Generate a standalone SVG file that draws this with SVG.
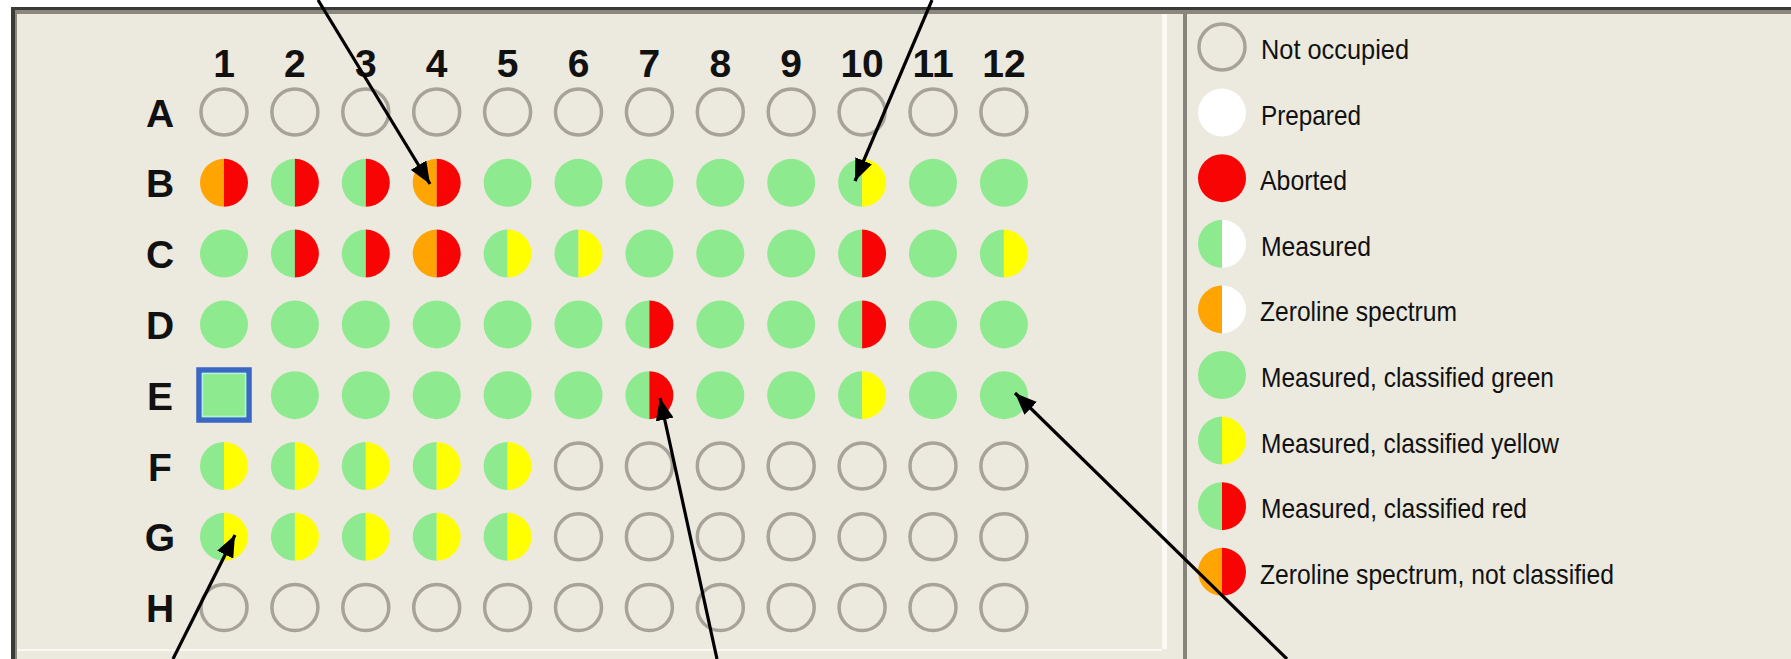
<svg xmlns="http://www.w3.org/2000/svg" xmlns:xlink="http://www.w3.org/1999/xlink" width="1791" height="659" viewBox="0 0 1791 659">
<style>
.lbl{font-family:"Liberation Sans",Arial,sans-serif;font-size:39px;font-weight:bold;fill:#111;text-anchor:middle}
.leg{font-family:"Liberation Sans",Arial,sans-serif;font-size:28px;fill:#111}
.empty{fill:none;stroke:#a7a398;stroke-width:3.5}
.G{fill:#8eea8e}.R{fill:#f80404}.Y{fill:#ffff00}.O{fill:#ffa400}.W{fill:#ffffff}
.arrow{stroke:#000;stroke-width:3.2;fill:none;marker-end:url(#ah)}
</style>
<defs>
<marker id="ah" markerUnits="userSpaceOnUse" markerWidth="24" markerHeight="18" refX="22" refY="9" orient="auto">
<path d="M0,0 L22,9 L0,18 Z" fill="#000"/>
</marker>
<g id="e"><circle r="23" class="empty"/></g>
<g id="g"><circle r="24" class="G"/></g>
<g id="gr"><path d="M0,-24A24,24 0 0 0 0,24Z" class="G"/><path d="M0,-24A24,24 0 0 1 0,24Z" class="R"/></g>
<g id="gy"><path d="M0,-24A24,24 0 0 0 0,24Z" class="G"/><path d="M0,-24A24,24 0 0 1 0,24Z" class="Y"/></g>
<g id="or"><path d="M0,-24A24,24 0 0 0 0,24Z" class="O"/><path d="M0,-24A24,24 0 0 1 0,24Z" class="R"/></g>
<g id="gw"><path d="M0,-24A24,24 0 0 0 0,24Z" class="G"/><path d="M0,-24A24,24 0 0 1 0,24Z" class="W"/></g>
<g id="ow"><path d="M0,-24A24,24 0 0 0 0,24Z" class="O"/><path d="M0,-24A24,24 0 0 1 0,24Z" class="W"/></g>
<g id="w"><circle r="24" class="W"/></g>
<g id="r"><circle r="24" class="R"/></g>
</defs>
<rect x="0" y="0" width="1791" height="659" fill="#ffffff"/>
<rect x="11" y="7" width="1780" height="652" fill="#ece9df"/>
<rect x="11" y="7" width="1780" height="3" fill="#3a3a36"/>
<rect x="11" y="10" width="1780" height="4" fill="#8a877e"/>
<rect x="11" y="7" width="4" height="652" fill="#3a3a36"/>
<rect x="15" y="14" width="2" height="645" fill="#8a877e"/>
<rect x="17" y="649" width="1145" height="2" fill="#f9f8f2"/>
<rect x="1162" y="14" width="5" height="635" fill="#fbfaf4"/>
<rect x="1183" y="14" width="4" height="645" fill="#86837a"/>

<g id="col-labels">
<text class="lbl" x="224" y="77">1</text>
<text class="lbl" x="294.9" y="77">2</text>
<text class="lbl" x="365.8" y="77">3</text>
<text class="lbl" x="436.7" y="77">4</text>
<text class="lbl" x="507.6" y="77">5</text>
<text class="lbl" x="578.5" y="77">6</text>
<text class="lbl" x="649.4" y="77">7</text>
<text class="lbl" x="720.3" y="77">8</text>
<text class="lbl" x="791.2" y="77">9</text>
<text class="lbl" x="862.1" y="77">10</text>
<text class="lbl" x="933" y="77">11</text>
<text class="lbl" x="1003.9" y="77">12</text>
</g>
<g id="row-labels">
<text class="lbl" x="160" y="126.5">A</text>
<text class="lbl" x="160" y="197.3">B</text>
<text class="lbl" x="160" y="268.1">C</text>
<text class="lbl" x="160" y="338.9">D</text>
<text class="lbl" x="160" y="409.7">E</text>
<text class="lbl" x="160" y="480.5">F</text>
<text class="lbl" x="160" y="551.3">G</text>
<text class="lbl" x="160" y="622.1">H</text>
</g>

<g id="row-A">
<g id="A1"><use xlink:href="#e" x="224" y="112"/></g>
<g id="A2"><use xlink:href="#e" x="294.9" y="112"/></g>
<g id="A3"><use xlink:href="#e" x="365.8" y="112"/></g>
<g id="A4"><use xlink:href="#e" x="436.7" y="112"/></g>
<g id="A5"><use xlink:href="#e" x="507.6" y="112"/></g>
<g id="A6"><use xlink:href="#e" x="578.5" y="112"/></g>
<g id="A7"><use xlink:href="#e" x="649.4" y="112"/></g>
<g id="A8"><use xlink:href="#e" x="720.3" y="112"/></g>
<g id="A9"><use xlink:href="#e" x="791.2" y="112"/></g>
<g id="A10"><use xlink:href="#e" x="862.1" y="112"/></g>
<g id="A11"><use xlink:href="#e" x="933" y="112"/></g>
<g id="A12"><use xlink:href="#e" x="1003.9" y="112"/></g>
</g>
<g id="row-B">
<g id="B1"><use xlink:href="#or" x="224" y="182.8"/></g>
<g id="B2"><use xlink:href="#gr" x="294.9" y="182.8"/></g>
<g id="B3"><use xlink:href="#gr" x="365.8" y="182.8"/></g>
<g id="B4"><use xlink:href="#or" x="436.7" y="182.8"/></g>
<g id="B5"><use xlink:href="#g" x="507.6" y="182.8"/></g>
<g id="B6"><use xlink:href="#g" x="578.5" y="182.8"/></g>
<g id="B7"><use xlink:href="#g" x="649.4" y="182.8"/></g>
<g id="B8"><use xlink:href="#g" x="720.3" y="182.8"/></g>
<g id="B9"><use xlink:href="#g" x="791.2" y="182.8"/></g>
<g id="B10"><use xlink:href="#gy" x="862.1" y="182.8"/></g>
<g id="B11"><use xlink:href="#g" x="933" y="182.8"/></g>
<g id="B12"><use xlink:href="#g" x="1003.9" y="182.8"/></g>
</g>
<g id="row-C">
<g id="C1"><use xlink:href="#g" x="224" y="253.6"/></g>
<g id="C2"><use xlink:href="#gr" x="294.9" y="253.6"/></g>
<g id="C3"><use xlink:href="#gr" x="365.8" y="253.6"/></g>
<g id="C4"><use xlink:href="#or" x="436.7" y="253.6"/></g>
<g id="C5"><use xlink:href="#gy" x="507.6" y="253.6"/></g>
<g id="C6"><use xlink:href="#gy" x="578.5" y="253.6"/></g>
<g id="C7"><use xlink:href="#g" x="649.4" y="253.6"/></g>
<g id="C8"><use xlink:href="#g" x="720.3" y="253.6"/></g>
<g id="C9"><use xlink:href="#g" x="791.2" y="253.6"/></g>
<g id="C10"><use xlink:href="#gr" x="862.1" y="253.6"/></g>
<g id="C11"><use xlink:href="#g" x="933" y="253.6"/></g>
<g id="C12"><use xlink:href="#gy" x="1003.9" y="253.6"/></g>
</g>
<g id="row-D">
<g id="D1"><use xlink:href="#g" x="224" y="324.4"/></g>
<g id="D2"><use xlink:href="#g" x="294.9" y="324.4"/></g>
<g id="D3"><use xlink:href="#g" x="365.8" y="324.4"/></g>
<g id="D4"><use xlink:href="#g" x="436.7" y="324.4"/></g>
<g id="D5"><use xlink:href="#g" x="507.6" y="324.4"/></g>
<g id="D6"><use xlink:href="#g" x="578.5" y="324.4"/></g>
<g id="D7"><use xlink:href="#gr" x="649.4" y="324.4"/></g>
<g id="D8"><use xlink:href="#g" x="720.3" y="324.4"/></g>
<g id="D9"><use xlink:href="#g" x="791.2" y="324.4"/></g>
<g id="D10"><use xlink:href="#gr" x="862.1" y="324.4"/></g>
<g id="D11"><use xlink:href="#g" x="933" y="324.4"/></g>
<g id="D12"><use xlink:href="#g" x="1003.9" y="324.4"/></g>
</g>
<g id="row-E">
<g id="E1"><rect x="199" y="370" width="50" height="50" fill="#8eea8e" stroke="#3a66c4" stroke-width="5.5"/><rect x="202.5" y="373.5" width="43" height="43" fill="none" stroke="#b4f0e0" stroke-width="1.5"/></g>
<g id="E2"><use xlink:href="#g" x="294.9" y="395.2"/></g>
<g id="E3"><use xlink:href="#g" x="365.8" y="395.2"/></g>
<g id="E4"><use xlink:href="#g" x="436.7" y="395.2"/></g>
<g id="E5"><use xlink:href="#g" x="507.6" y="395.2"/></g>
<g id="E6"><use xlink:href="#g" x="578.5" y="395.2"/></g>
<g id="E7"><use xlink:href="#gr" x="649.4" y="395.2"/></g>
<g id="E8"><use xlink:href="#g" x="720.3" y="395.2"/></g>
<g id="E9"><use xlink:href="#g" x="791.2" y="395.2"/></g>
<g id="E10"><use xlink:href="#gy" x="862.1" y="395.2"/></g>
<g id="E11"><use xlink:href="#g" x="933" y="395.2"/></g>
<g id="E12"><use xlink:href="#g" x="1003.9" y="395.2"/></g>
</g>
<g id="row-F">
<g id="F1"><use xlink:href="#gy" x="224" y="466"/></g>
<g id="F2"><use xlink:href="#gy" x="294.9" y="466"/></g>
<g id="F3"><use xlink:href="#gy" x="365.8" y="466"/></g>
<g id="F4"><use xlink:href="#gy" x="436.7" y="466"/></g>
<g id="F5"><use xlink:href="#gy" x="507.6" y="466"/></g>
<g id="F6"><use xlink:href="#e" x="578.5" y="466"/></g>
<g id="F7"><use xlink:href="#e" x="649.4" y="466"/></g>
<g id="F8"><use xlink:href="#e" x="720.3" y="466"/></g>
<g id="F9"><use xlink:href="#e" x="791.2" y="466"/></g>
<g id="F10"><use xlink:href="#e" x="862.1" y="466"/></g>
<g id="F11"><use xlink:href="#e" x="933" y="466"/></g>
<g id="F12"><use xlink:href="#e" x="1003.9" y="466"/></g>
</g>
<g id="row-G">
<g id="G1"><use xlink:href="#gy" x="224" y="536.8"/></g>
<g id="G2"><use xlink:href="#gy" x="294.9" y="536.8"/></g>
<g id="G3"><use xlink:href="#gy" x="365.8" y="536.8"/></g>
<g id="G4"><use xlink:href="#gy" x="436.7" y="536.8"/></g>
<g id="G5"><use xlink:href="#gy" x="507.6" y="536.8"/></g>
<g id="G6"><use xlink:href="#e" x="578.5" y="536.8"/></g>
<g id="G7"><use xlink:href="#e" x="649.4" y="536.8"/></g>
<g id="G8"><use xlink:href="#e" x="720.3" y="536.8"/></g>
<g id="G9"><use xlink:href="#e" x="791.2" y="536.8"/></g>
<g id="G10"><use xlink:href="#e" x="862.1" y="536.8"/></g>
<g id="G11"><use xlink:href="#e" x="933" y="536.8"/></g>
<g id="G12"><use xlink:href="#e" x="1003.9" y="536.8"/></g>
</g>
<g id="row-H">
<g id="H1"><use xlink:href="#e" x="224" y="607.6"/></g>
<g id="H2"><use xlink:href="#e" x="294.9" y="607.6"/></g>
<g id="H3"><use xlink:href="#e" x="365.8" y="607.6"/></g>
<g id="H4"><use xlink:href="#e" x="436.7" y="607.6"/></g>
<g id="H5"><use xlink:href="#e" x="507.6" y="607.6"/></g>
<g id="H6"><use xlink:href="#e" x="578.5" y="607.6"/></g>
<g id="H7"><use xlink:href="#e" x="649.4" y="607.6"/></g>
<g id="H8"><use xlink:href="#e" x="720.3" y="607.6"/></g>
<g id="H9"><use xlink:href="#e" x="791.2" y="607.6"/></g>
<g id="H10"><use xlink:href="#e" x="862.1" y="607.6"/></g>
<g id="H11"><use xlink:href="#e" x="933" y="607.6"/></g>
<g id="H12"><use xlink:href="#e" x="1003.9" y="607.6"/></g>
</g>

<g id="legend">
<g id="leg-not-occupied"><use xlink:href="#e" x="1222" y="47"/><text class="leg" x="1261" y="59" textLength="148" lengthAdjust="spacingAndGlyphs">Not occupied</text></g>
<g id="leg-prepared"><use xlink:href="#w" x="1222" y="112.6"/><text class="leg" x="1261" y="124.6" textLength="100" lengthAdjust="spacingAndGlyphs">Prepared</text></g>
<g id="leg-aborted"><use xlink:href="#r" x="1222" y="178.2"/><text class="leg" x="1260" y="190.2" textLength="87" lengthAdjust="spacingAndGlyphs">Aborted</text></g>
<g id="leg-measured"><use xlink:href="#gw" x="1222" y="243.8"/><text class="leg" x="1261" y="255.8" textLength="110" lengthAdjust="spacingAndGlyphs">Measured</text></g>
<g id="leg-zeroline"><use xlink:href="#ow" x="1222" y="309.4"/><text class="leg" x="1260" y="321.4" textLength="197" lengthAdjust="spacingAndGlyphs">Zeroline spectrum</text></g>
<g id="leg-green"><use xlink:href="#g" x="1222" y="375"/><text class="leg" x="1261" y="387" textLength="293" lengthAdjust="spacingAndGlyphs">Measured, classified green</text></g>
<g id="leg-yellow"><use xlink:href="#gy" x="1222" y="440.6"/><text class="leg" x="1261" y="452.6" textLength="298" lengthAdjust="spacingAndGlyphs">Measured, classified yellow</text></g>
<g id="leg-red"><use xlink:href="#gr" x="1222" y="506.2"/><text class="leg" x="1261" y="518.2" textLength="266" lengthAdjust="spacingAndGlyphs">Measured, classified red</text></g>
<g id="leg-zeroline-nc"><use xlink:href="#or" x="1222" y="571.8"/><text class="leg" x="1260" y="583.8" textLength="354" lengthAdjust="spacingAndGlyphs">Zeroline spectrum, not classified</text></g>
</g>

<g id="connectors">
<line class="arrow" x1="318" y1="0" x2="430" y2="184"/>
<line class="arrow" x1="932" y1="0" x2="855" y2="181"/>
<line class="arrow" x1="173" y1="659" x2="235" y2="535"/>
<line class="arrow" x1="717" y1="659" x2="660" y2="398"/>
<line class="arrow" x1="1287" y1="659" x2="1015" y2="393"/>
</g>
</svg>
